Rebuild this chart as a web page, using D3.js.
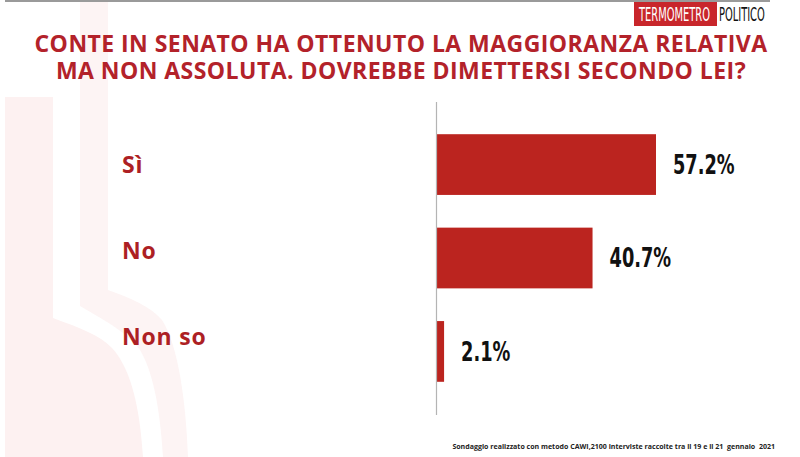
<!DOCTYPE html>
<html>
<head>
<meta charset="utf-8">
<script src="https://cdn.jsdelivr.net/npm/d3@7"></script>
<style>
  html, body { margin: 0; padding: 0; background: #fff; }
  svg { display: block; }
</style>
</head>
<body>
<svg id="chart" width="800" height="457"></svg>
<script>
const categories = ["Sì", "No", "Non so"];
const values = [57.2, 40.7, 2.1];
const valueLabels = ["57.2%", "40.7%", "2.1%"];
const titleLines = [
  "CONTE IN SENATO HA OTTENUTO LA MAGGIORANZA RELATIVA",
  "MA NON ASSOLUTA. DOVREBBE DIMETTERSI SECONDO LEI?"
];
const footnote = "Sondaggio realizzato con metodo CAWI,2100 interviste raccolte tra il 19 e il 21  gennaio  2021";

const svg = d3.select("#chart");
const W = 800, H = 457;
svg.append("rect").attr("width", W).attr("height", H).attr("fill", "#ffffff");

// faint watermark
const wm = svg.append("g");
wm.append("path")
  .attr("d", "M5,97 L53,97 L53,318 C80,328 100,335 112,348 C132,370 140,410 143,457 L5,457 Z")
  .attr("fill", "#fdf1f1");
wm.append("path")
  .attr("d", "M80,0 L108,0 L108,290 C130,298 150,306 162,320 C178,345 186,400 188,457 L163,457 C160,405 152,370 140,350 C125,330 100,318 80,306 Z")
  .attr("fill", "#fdf4f4");

// top gray rule
svg.append("line").attr("x1", 5).attr("x2", 770).attr("y1", 1).attr("y2", 1)
  .attr("stroke", "#9a9a9a").attr("stroke-width", 2);

// logo
const logo = svg.append("g");
logo.append("rect").attr("x", 634).attr("y", 2).attr("width", 83).attr("height", 24).attr("fill", "#c8262b");
logo.append("text").attr("transform", "translate(639,21) scale(0.55,1)")
  .style("font-family", "'DejaVu Sans Condensed', 'DejaVu Sans', sans-serif")
  .style("font-size", "20px").attr("fill", "#ffffff").text("TERMOMETRO");
logo.append("text").attr("transform", "translate(719,21) scale(0.55,1)")
  .style("font-family", "'DejaVu Sans Condensed', 'DejaVu Sans', sans-serif")
  .style("font-size", "20px").attr("fill", "#111111").text("POLITICO");

// title (one text, two lines)
const title = svg.append("text")
  .attr("text-anchor", "middle")
  .style("font-family", "'Open Sans', sans-serif")
  .style("font-weight", 700)
  .style("font-size", "23px")
  .style("letter-spacing", "0.45px")
  .attr("fill", "#b3222a");
title.selectAll("tspan").data(titleLines).join("tspan")
  .attr("x", 401).attr("y", (d, i) => 52 + i * 27)
  .text(d => d);

// scales
const y = d3.scaleBand().domain(categories).range([101.5, 414.5])
  .paddingInner(0.35).paddingOuter(0.35);
const x = d3.scaleLinear().domain([0, d3.max(values)]).range([436, 656]);
const yLab = d3.scalePoint().domain(categories).range([173, 345]);

const data = categories.map((c, i) => ({ c, v: values[i], l: valueLabels[i] }));

// bars
svg.append("g").selectAll("rect").data(data).join("rect")
  .attr("x", x(0)).attr("y", d => y(d.c))
  .attr("width", d => x(d.v) - x(0)).attr("height", y.bandwidth())
  .attr("fill", "#bb241f");

// axis line
const axis = svg.append("g").attr("transform", `translate(${x(0)},0)`)
  .call(d3.axisLeft(y).tickSize(0).tickSizeOuter(0).tickFormat(""));
axis.select(".domain").attr("stroke", "#b4b4b4").attr("stroke-width", 1.2);

// value labels (condensed)
svg.append("g").selectAll("text").data(data).join("text")
  .attr("transform", d => `translate(${x(d.v) + 17},${y(d.c) + y.bandwidth() / 2}) scale(0.76,1)`)
  .attr("dy", "0.36em")
  .style("font-family", "'DejaVu Sans Condensed', 'DejaVu Sans', sans-serif")
  .style("font-weight", 700)
  .style("font-size", "26px")
  .attr("fill", "#111111")
  .text(d => d.l);

// category labels
svg.append("g").selectAll("text").data(categories).join("text")
  .attr("x", 122).attr("y", d => yLab(d))
  .style("font-family", "'Open Sans', sans-serif")
  .style("font-weight", 700)
  .style("font-size", "23px")
  .style("letter-spacing", "0.8px")
  .attr("fill", "#ad1f24")
  .text(d => d);

// footnote
svg.append("text").attr("x", 775).attr("y", 449)
  .attr("text-anchor", "end")
  .style("white-space", "pre")
  .style("font-family", "'Open Sans', sans-serif")
  .style("font-weight", 700)
  .style("font-size", "7.05px")
  .attr("fill", "#222222")
  .text(footnote);
</script>
</body>
</html>
